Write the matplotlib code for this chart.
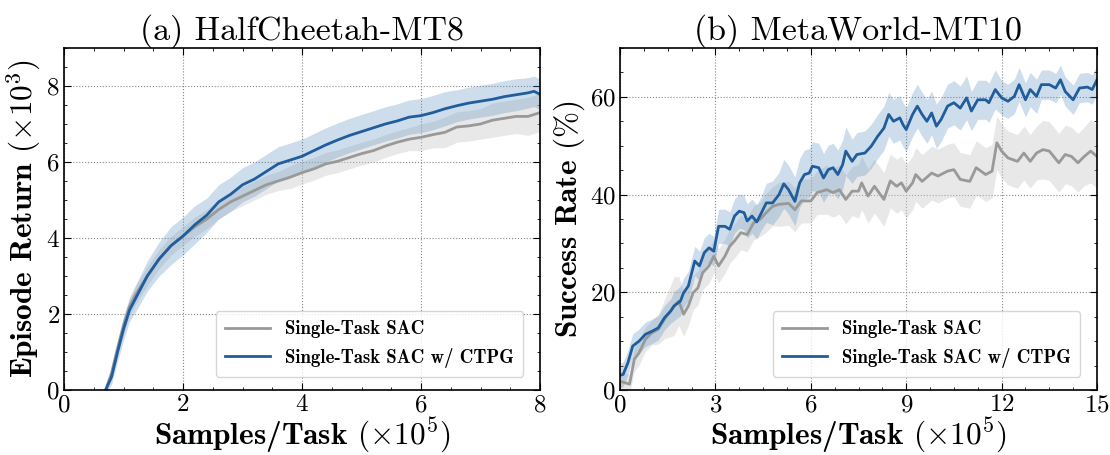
import matplotlib
matplotlib.use("Agg")
import matplotlib.pyplot as plt
import numpy as np
from matplotlib.ticker import AutoMinorLocator, MultipleLocator

plt.rcParams['font.family'] = 'cmr10'
plt.rcParams['mathtext.fontset'] = 'cm'
plt.rcParams['axes.unicode_minus'] = False
plt.rcParams['axes.formatter.use_mathtext'] = True

# ---- (a) HalfCheetah-MT8 ----
hc_x = [0.7, 0.8, 0.9, 1.0, 1.1, 1.2, 1.4, 1.6, 1.8, 2.0, 2.2, 2.4, 2.6, 2.8, 3.0,
        3.2, 3.4, 3.6, 3.8, 4.0, 4.2, 4.4, 4.6, 4.8, 5.0, 5.2, 5.4, 5.6, 5.8, 6.0,
        6.2, 6.4, 6.6, 6.8, 7.0, 7.2, 7.4, 7.6, 7.8, 7.9, 8.0]
hc_sac = [0.0, 0.45, 1.1, 1.7, 2.2, 2.5, 3.0, 3.45, 3.8, 4.05, 4.3, 4.5, 4.75, 4.95, 5.1,
          5.25, 5.4, 5.5, 5.6, 5.72, 5.82, 5.95, 6.02, 6.12, 6.22, 6.3, 6.42, 6.52, 6.6, 6.65,
          6.72, 6.78, 6.92, 6.95, 7.0, 7.1, 7.15, 7.2, 7.2, 7.25, 7.3]
hc_sac_err = [0.1, 0.15, 0.2, 0.25, 0.25, 0.25, 0.25, 0.25, 0.25, 0.25, 0.25, 0.25, 0.25, 0.25, 0.25,
              0.25, 0.25, 0.25, 0.3, 0.3, 0.3, 0.3, 0.3, 0.3, 0.3, 0.3, 0.3, 0.3, 0.3, 0.35,
              0.35, 0.4, 0.4, 0.4, 0.4, 0.45, 0.45, 0.45, 0.5, 0.5, 0.5]
hc_ctpg = [0.0, 0.35, 1.0, 1.6, 2.1, 2.4, 3.0, 3.45, 3.8, 4.05, 4.35, 4.6, 4.95, 5.15, 5.4,
           5.55, 5.75, 5.95, 6.05, 6.15, 6.3, 6.45, 6.58, 6.7, 6.8, 6.9, 7.0, 7.08, 7.18, 7.22,
           7.3, 7.4, 7.48, 7.55, 7.6, 7.65, 7.72, 7.77, 7.82, 7.86, 7.78]
hc_ctpg_err = [0.1, 0.2, 0.25, 0.3, 0.3, 0.35, 0.4, 0.45, 0.5, 0.5, 0.5, 0.45, 0.45, 0.45, 0.45,
               0.45, 0.45, 0.45, 0.45, 0.45, 0.45, 0.45, 0.45, 0.45, 0.45, 0.45, 0.45, 0.45, 0.45, 0.45,
               0.45, 0.45, 0.42, 0.42, 0.42, 0.42, 0.42, 0.42, 0.4, 0.4, 0.4]

# ---- (b) MetaWorld-MT10 ----
mw_ctpg_x = [0, 0.1, 0.25, 0.4, 0.6, 0.8, 1.0, 1.2, 1.4, 1.6,
             1.7, 1.9, 2.0, 2.15, 2.35, 2.5, 2.65, 2.8, 2.95, 3.1,
             3.3, 3.45, 3.6, 3.75, 3.9, 4.0, 4.15, 4.3, 4.45, 4.6,
             4.8, 5.0, 5.15, 5.3, 5.5, 5.65, 5.8, 5.95, 6.05, 6.25,
             6.4, 6.55, 6.7, 6.85, 7.0, 7.1, 7.3, 7.45, 7.7, 7.9,
             8.1, 8.3, 8.45, 8.6, 8.8, 8.9, 9.0, 9.2, 9.35, 9.5,
             9.65, 9.8, 9.95, 10.1, 10.3, 10.5, 10.7, 10.9, 11.05, 11.25,
             11.5, 11.6, 11.8, 12.0, 12.2, 12.4, 12.55, 12.75, 12.9, 13.1,
             13.25, 13.5, 13.7, 13.85, 14.0, 14.25, 14.45, 14.7, 14.85, 15.0]
mw_ctpg = [3.0, 3.2, 5.6, 9.0, 10.0, 11.4, 12.0, 12.7, 14.8, 16.2,
           17.2, 18.2, 19.9, 21.3, 26.4, 25.4, 28.1, 29.1, 28.4, 33.5,
           33.5, 32.9, 35.6, 36.6, 36.3, 34.6, 35.6, 34.4, 36.3, 38.3,
           38.3, 40.0, 42.2, 41.0, 38.6, 42.4, 44.1, 44.4, 45.8, 45.5,
           43.4, 45.1, 45.5, 44.1, 46.1, 48.9, 46.8, 48.2, 48.5, 49.9,
           51.9, 53.6, 56.4, 55.0, 55.7, 54.3, 53.3, 56.4, 58.1, 56.4,
           55.0, 56.7, 54.0, 55.4, 58.1, 58.8, 57.7, 59.8, 57.1, 59.4,
           59.4, 58.8, 61.5, 59.8, 59.1, 60.1, 62.5, 59.4, 61.5, 60.1,
           62.5, 62.5, 61.8, 63.5, 61.1, 59.4, 61.8, 62.0, 61.5, 63.5]
mw_ctpg_err = [2.5, 2.5, 2.5, 2.5, 2.5, 2.5, 2.5, 2.5, 2.5, 2.5,
               3.0, 3.0, 3.0, 3.0, 3.0, 3.0, 3.0, 3.0, 3.0, 3.5,
               3.5, 3.5, 3.5, 3.5, 3.5, 3.5, 3.5, 3.5, 3.5, 4.0,
               4.5, 4.5, 5.0, 5.0, 5.0, 5.0, 5.0, 5.0, 5.0, 5.0,
               5.0, 5.0, 5.0, 5.0, 5.0, 5.0, 4.5, 4.5, 4.5, 4.5,
               4.5, 4.5, 4.5, 4.5, 4.5, 4.5, 4.5, 4.5, 4.5, 4.5,
               4.5, 4.5, 4.5, 4.5, 4.5, 4.5, 4.5, 4.5, 4.0, 4.0,
               4.0, 4.0, 4.0, 3.5, 3.5, 3.5, 3.5, 3.5, 3.5, 3.5,
               3.0, 3.0, 3.0, 3.0, 3.0, 3.0, 3.0, 3.0, 3.0, 3.0]
mw_sac_x = [0, 0.15, 0.3, 0.45, 0.6, 0.8, 1.0, 1.2, 1.4, 1.55,
            1.7, 1.85, 2.0, 2.15, 2.3, 2.45, 2.6, 2.8, 2.95, 3.1,
            3.3, 3.45, 3.6, 3.8, 4.0, 4.2, 4.4, 4.6, 4.8, 5.0,
            5.3, 5.5, 5.7, 6.0, 6.2, 6.5, 6.7, 6.9, 7.1, 7.3,
            7.5, 7.6, 7.8, 8.0, 8.3, 8.5, 8.7, 8.85, 9.0, 9.2,
            9.3, 9.5, 9.8, 10.0, 10.3, 10.5, 10.7, 11.0, 11.2, 11.5,
            11.7, 11.85, 12.0, 12.2, 12.5, 12.7, 12.9, 13.1, 13.3, 13.5,
            13.8, 14.0, 14.2, 14.4, 14.6, 14.8, 15.0]
mw_sac = [1.8, 1.5, 1.2, 6.3, 7.6, 10.4, 11.7, 12.4, 14.5, 15.8,
          17.2, 18.2, 15.5, 17.2, 19.9, 20.9, 24.0, 25.4, 27.4, 25.4,
          27.4, 29.4, 30.5, 32.2, 31.8, 34.2, 34.9, 36.3, 37.6, 38.0,
          38.2, 36.9, 38.7, 38.7, 40.4, 41.0, 40.4, 41.0, 39.0, 40.7,
          40.7, 42.4, 39.7, 41.7, 39.0, 42.8, 41.7, 42.4, 40.7, 42.4,
          44.1, 42.7, 44.4, 43.8, 44.8, 45.1, 43.1, 42.7, 45.5, 44.1,
          44.8, 50.6, 48.9, 47.5, 46.8, 48.5, 46.8, 48.5, 49.2, 48.9,
          46.5, 48.2, 47.8, 46.5, 47.8, 48.9, 47.8]
mw_sac_err = [2.0, 2.0, 2.0, 2.5, 2.5, 2.5, 2.5, 3.0, 4.0, 5.0,
              6.0, 5.0, 4.5, 4.0, 3.5, 3.5, 3.5, 3.5, 3.5, 3.5,
              3.5, 3.5, 3.5, 3.5, 3.5, 3.5, 3.5, 4.0, 4.0, 4.5,
              4.5, 4.5, 4.5, 4.5, 4.5, 5.0, 5.0, 5.0, 5.0, 5.0,
              5.5, 5.5, 5.5, 5.5, 5.5, 5.5, 5.5, 5.5, 5.5, 5.5,
              5.5, 5.5, 5.5, 5.5, 5.5, 5.5, 5.5, 5.5, 5.5, 5.5,
              5.5, 5.5, 5.5, 5.5, 5.5, 5.5, 5.5, 5.5, 6.0, 6.0,
              6.0, 6.0, 6.0, 6.0, 6.0, 6.5, 6.5]

legend_labels = ['Single-Task SAC', 'Single-Task SAC w/ CTPG']
gray = '#999999'
blue = '#1f5d9c'

fig = plt.figure(figsize=(11.1, 4.55), dpi=100)
ax1 = fig.add_axes([64 / 1110, 65 / 455, 476 / 1110, 342 / 455])
ax2 = fig.add_axes([620 / 1110, 65 / 455, 477 / 1110, 342 / 455])


def draw(ax, xs, ys, es, xc, yc, ec, xlim, ylim, xmaj, ymaj, title, ylabel):
    xs, ys, es = np.array(xs), np.array(ys), np.array(es)
    xc, yc, ec = np.array(xc), np.array(yc), np.array(ec)
    ax.fill_between(xs, ys - es, ys + es, color='#cccccc', alpha=0.45, lw=0)
    ax.fill_between(xc, yc - ec, yc + ec, color='#5b8fc2', alpha=0.3, lw=0)
    ax.plot(xs, ys, color=gray, lw=2, label=legend_labels[0])
    ax.plot(xc, yc, color=blue, lw=2, label=legend_labels[1])
    ax.set_xlim(*xlim)
    ax.set_ylim(*ylim)
    ax.xaxis.set_major_locator(MultipleLocator(xmaj))
    ax.yaxis.set_major_locator(MultipleLocator(ymaj))
    ax.xaxis.set_minor_locator(AutoMinorLocator(4))
    ax.yaxis.set_minor_locator(AutoMinorLocator(4))
    ax.tick_params(which='both', direction='in', top=True, right=True, labelsize=18)
    ax.tick_params(which='major', length=5, pad=3)
    ax.tick_params(which='minor', length=2.5)
    ax.grid(True, which='major', linestyle=':', color='#888888', lw=0.8)
    ax.set_axisbelow(True)
    for s in ax.spines.values():
        s.set_linewidth(1.2)
    ax.set_title(title, fontsize=24.5, pad=5)
    ax.set_xlabel(r'Samples/Task $(\times 10^5)$', fontfamily='cmb10', fontsize=22.5, labelpad=0)
    ax.set_ylabel(ylabel, fontfamily='cmb10', fontsize=22.5, labelpad=2)
    ax.legend(loc='lower right', prop={'family': 'cmb10', 'size': 13.5},
              frameon=True, fancybox=True, framealpha=0.8, edgecolor='#cccccc',
              handlelength=2.4, borderpad=0.5, bbox_to_anchor=(0.985, 0.01))


draw(ax1, hc_x, hc_sac, hc_sac_err, hc_x, hc_ctpg, hc_ctpg_err,
     (0, 8), (0, 9), 2, 2, '(a) HalfCheetah-MT8', r'Episode Return $(\times 10^3)$')
draw(ax2, mw_sac_x, mw_sac, mw_sac_err, mw_ctpg_x, mw_ctpg, mw_ctpg_err,
     (0, 15), (0, 70), 3, 20, '(b) MetaWorld-MT10', r'Success Rate $(\%)$')

fig.savefig('out.png', dpi=100)
